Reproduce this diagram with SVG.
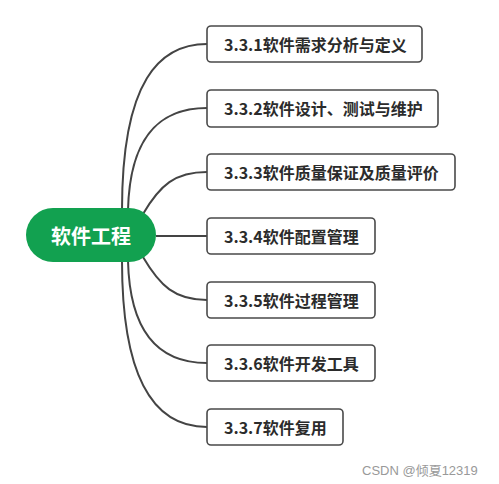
<svg xmlns="http://www.w3.org/2000/svg" width="499" height="484" viewBox="0 0 499 484">
<style>
.box{fill:#fff;stroke:#4a4a4a;stroke-width:1.6}
.t{font-family:"Noto Sans CJK SC","Noto Sans",sans-serif;font-weight:bold;font-size:16px;fill:#2b2b2b;dominant-baseline:central}
.c{fill:none;stroke:#444;stroke-width:2}
</style>
<rect width="499" height="484" fill="#fff"/>
<g id="connectors">
<path class="c" d="M122 210 C122 80 160 44 207 44"/>
<path class="c" d="M128 210 C130 130 165 108 207 108"/>
<path class="c" d="M143 214 C160 185 175 172 207 172"/>
<path class="c" d="M156 236 L207 236"/>
<path class="c" d="M143 257 C160 286 175 300 207 300"/>
<path class="c" d="M128 261 C130 340 165 363 207 363"/>
<path class="c" d="M122 261 C122 390 160 427 207 427"/>
</g>
<g id="root">
<rect x="26" y="208" width="130" height="54" rx="27" fill="#12a150"/>
<text x="91" y="235" text-anchor="middle" style="font-family:'Noto Sans CJK SC','Noto Sans',sans-serif;font-weight:bold;font-size:20px;fill:#fff;dominant-baseline:central">软件工程</text>
</g>
<g id="n1"><rect class="box" x="207" y="26" width="215" height="36" rx="4"/><text class="t" x="224" y="44">3.3.1软件需求分析与定义</text></g>
<g id="n2"><rect class="box" x="207" y="90" width="231" height="37" rx="4"/><text class="t" x="224" y="108">3.3.2软件设计、测试与维护</text></g>
<g id="n3"><rect class="box" x="207" y="154" width="248" height="36" rx="4"/><text class="t" x="224" y="172">3.3.3软件质量保证及质量评价</text></g>
<g id="n4"><rect class="box" x="207" y="218" width="168" height="36" rx="4"/><text class="t" x="224" y="236">3.3.4软件配置管理</text></g>
<g id="n5"><rect class="box" x="207" y="282" width="168" height="36" rx="4"/><text class="t" x="224" y="300">3.3.5软件过程管理</text></g>
<g id="n6"><rect class="box" x="207" y="345" width="168" height="36" rx="4"/><text class="t" x="224" y="363">3.3.6软件开发工具</text></g>
<g id="n7"><rect class="box" x="207" y="409" width="136" height="36" rx="4"/><text class="t" x="224" y="427">3.3.7软件复用</text></g>
<text x="362" y="470" style="font-family:'Liberation Sans','Noto Sans CJK SC',sans-serif;font-size:13px;fill:#999;dominant-baseline:central">CSDN @倾夏12319</text>
</svg>
